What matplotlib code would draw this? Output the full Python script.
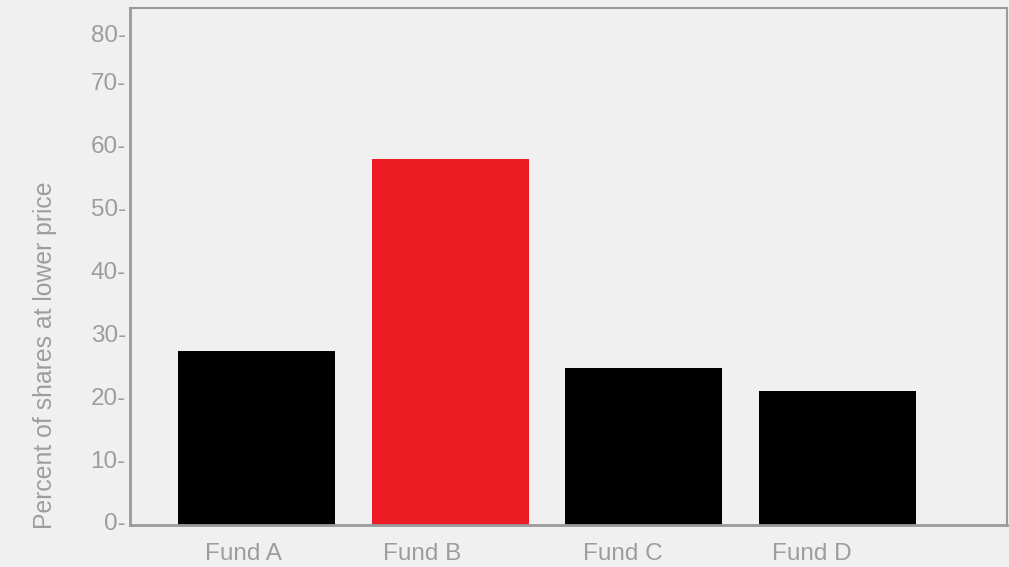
import matplotlib
matplotlib.use("Agg")
import matplotlib.pyplot as plt
import matplotlib.transforms as mtransforms

categories = ["Fund A", "Fund B", "Fund C", "Fund D"]
values = [27.6, 58.1, 24.9, 21.3]
ytick_labels = ["0-", "10-", "20-", "30-", "40-", "50-", "60-", "70-", "80-"]
ytick_values = [0, 10, 20, 30, 40, 50, 60, 70, 77.6]
ylabel = "Percent of shares at lower price"

# layout/style
bar_colors = ["#000000", "#ed1c24", "#000000", "#000000"]
label_offsets = [-0.067, -0.145, -0.109, -0.134]
bg = "#f0f0f0"
gray = "#9d9da1"
spine_gray = "#9a9a9a"

plt.rcParams['font.family'] = ['Liberation Sans', 'DejaVu Sans']

W, H = 1009, 567
fig = plt.figure(figsize=(W/100, H/100), dpi=100, facecolor=bg)
ax = fig.add_axes([130/W, 1 - 525/H, (1007-130)/W, (525-8)/H], facecolor=bg)

x = list(range(len(categories)))
ax.bar(x, values, width=0.811, color=bar_colors, zorder=2)

ax.set_xlim(-0.654, 3.876)
ax.set_ylim(0, 82.1)

ax.set_yticks(ytick_values)
ax.set_yticklabels(ytick_labels)
ax.set_xticks([xi + o for xi, o in zip(x, label_offsets)])
ax.set_xticklabels(categories)
ax.tick_params(axis='y', length=0, pad=3, labelsize=17.5, labelcolor=gray)
ax.tick_params(axis='x', length=0, pad=13, labelsize=17.5, labelcolor=gray)

offset = mtransforms.ScaledTranslation(0, 3/100, fig.dpi_scale_trans)
for lbl in ax.get_yticklabels():
    lbl.set_transform(lbl.get_transform() + offset)

for s in ax.spines.values():
    s.set_color(spine_gray)
    s.set_linewidth(1.5)
ax.spines['left'].set_linewidth(2)
ax.spines['bottom'].set_linewidth(2)

ax.set_ylabel(ylabel, fontsize=17.8, color=gray, va='center')
ax.yaxis.set_label_coords(-(130 - 45) / 877, (525 - 355) / 517)

fig.savefig("out.png", dpi=100, facecolor=bg)
